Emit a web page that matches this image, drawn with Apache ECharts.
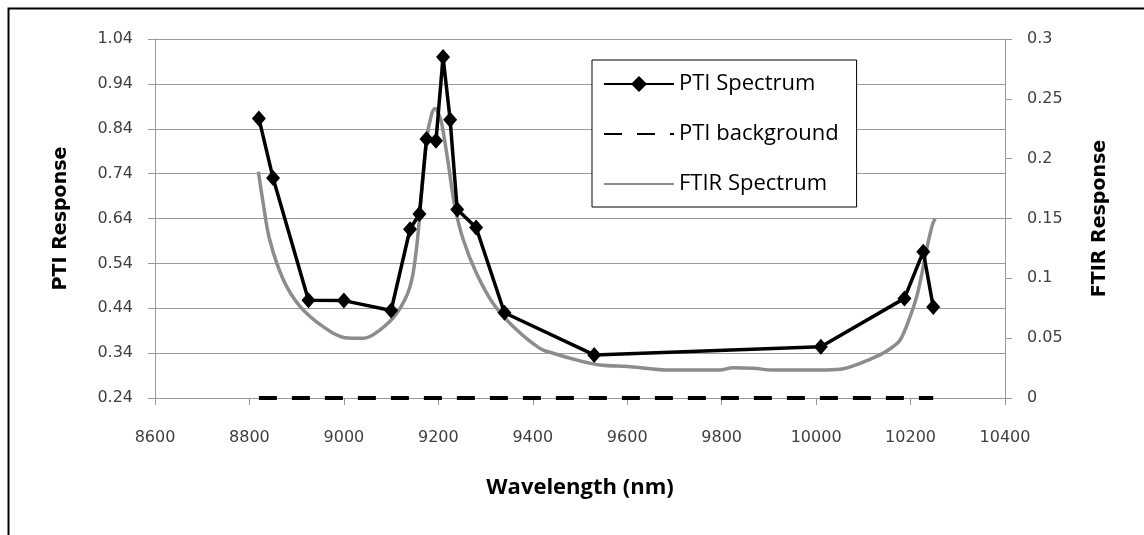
<!DOCTYPE html>
<html>
<head>
<meta charset="utf-8">
<script src="https://cdn.jsdelivr.net/npm/echarts@6/dist/echarts.min.js"></script>
<style>
html,body{margin:0;padding:0;background:#fff;}
#chart{width:1144px;height:535px;}
</style>
</head>
<body>
<div id="chart"></div>
<script>
// ---- data ----
const ptiX = [8820, 8850, 8925, 9000, 9100, 9140, 9160, 9175, 9195, 9210, 9225, 9240, 9280, 9340, 9530, 10010, 10187, 10227, 10248];
const ptiY = [0.863, 0.730, 0.458, 0.457, 0.435, 0.616, 0.650, 0.817, 0.813, 1.000, 0.860, 0.660, 0.620, 0.430, 0.336, 0.354, 0.462, 0.566, 0.443];
const bgY  = [0.24, 0.24, 0.24, 0.24, 0.24, 0.24, 0.24, 0.24, 0.24, 0.24, 0.24, 0.24, 0.24, 0.24, 0.24, 0.24, 0.24, 0.24, 0.24];
const ftirX = [8819, 8829, 8843, 8872, 8907, 8956, 9002, 9041, 9076, 9112, 9140, 9154, 9165, 9175, 9185, 9193, 9200, 9207, 9221, 9235, 9253, 9281, 9316, 9359, 9415, 9443, 9500, 9542, 9606, 9690, 9750, 9796, 9824, 9867, 9909, 9960, 10008, 10051, 10093, 10135, 10160, 10178, 10199, 10213, 10224, 10234, 10245, 10252];
const ftirY = [0.189, 0.163, 0.132, 0.0986, 0.0766, 0.0596, 0.0504, 0.0499, 0.0568, 0.0708, 0.093, 0.126, 0.174, 0.2156, 0.236, 0.242, 0.238, 0.2296, 0.196, 0.160, 0.132, 0.104, 0.079, 0.0596, 0.0415, 0.0374, 0.031, 0.0276, 0.0262, 0.0234, 0.0234, 0.0234, 0.0253, 0.0248, 0.0234, 0.0234, 0.0234, 0.024, 0.029, 0.036, 0.042, 0.0485, 0.068, 0.0847, 0.104, 0.124, 0.143, 0.150];
const xTicks = {min: 8600, max: 10400, interval: 200};
const leftTicks = {min: 0.24, max: 1.04, interval: 0.1};
const rightTicks = {min: 0, max: 0.3, interval: 0.05};
const seriesNames = ['PTI Spectrum', 'PTI background', 'FTIR Spectrum'];

const zip = (xs, ys) => xs.map((x, i) => [x, ys[i]]);
const gridColor = '#9a9a9a';
const labelStyle = {color: '#404040', fontFamily: 'DejaVu Sans', fontSize: 16};

const chart = echarts.init(document.getElementById('chart'), null, {renderer: 'canvas'});
chart.setOption({
  backgroundColor: '#ffffff',
  animation: false,
  graphic: [{
    type: 'rect', left: 6, top: 6, z: 100,
    shape: {x: 0, y: 0, width: 1300, height: 700},
    style: {fill: 'none', stroke: '#000', lineWidth: 2}
  }],
  grid: {left: 155, right: 139, top: 39, bottom: 137, containLabel: false},
  legend: {
    orient: 'vertical',
    left: 592, top: 60,
    padding: [13, 18, 12, 11],
    backgroundColor: '#fff',
    borderColor: '#000', borderWidth: 1,
    itemWidth: 70, itemHeight: 20, itemGap: 28,
    textStyle: {fontFamily: 'Open Sans', fontSize: 22, color: '#000', lineHeight: 22},
    data: [
      {name: seriesNames[0]},
      {name: seriesNames[1], itemStyle: {opacity: 0}},
      {name: seriesNames[2], itemStyle: {opacity: 0}}
    ]
  },
  xAxis: {
    type: 'value', min: xTicks.min, max: xTicks.max, interval: xTicks.interval,
    name: 'Wavelength (nm)', nameLocation: 'middle', nameGap: 79,
    nameTextStyle: {fontFamily: 'Open Sans', fontWeight: 'bold', fontSize: 22, color: '#000'},
    axisLine: {show: true, onZero: false, lineStyle: {color: gridColor, width: 1}},
    axisTick: {show: true, length: 7, lineStyle: {color: gridColor}},
    axisLabel: Object.assign({margin: 32, formatter: v => String(v)}, labelStyle),
    splitLine: {show: false}
  },
  yAxis: [{
    type: 'value', position: 'left',
    min: leftTicks.min, max: leftTicks.max, interval: leftTicks.interval,
    name: 'PTI Response', nameLocation: 'middle', nameGap: 84, nameRotate: 90,
    nameTextStyle: {fontFamily: 'DejaVu Sans', fontWeight: 'bold', fontSize: 19, color: '#000'},
    axisLine: {show: true, lineStyle: {color: gridColor, width: 1}},
    axisTick: {show: true, length: 7, lineStyle: {color: gridColor}},
    axisLabel: Object.assign({margin: 22, formatter: v => v.toFixed(2)}, labelStyle),
    splitLine: {show: true, lineStyle: {color: gridColor, width: 1}}
  }, {
    type: 'value', position: 'right',
    min: rightTicks.min, max: rightTicks.max, interval: rightTicks.interval,
    name: 'FTIR Response', nameLocation: 'middle', nameGap: 86, nameRotate: 90,
    nameTextStyle: {fontFamily: 'DejaVu Sans', fontWeight: 'bold', fontSize: 19, color: '#000'},
    axisLine: {show: true, lineStyle: {color: gridColor, width: 1}},
    axisTick: {show: true, length: 7, lineStyle: {color: gridColor}},
    axisLabel: Object.assign({margin: 22, formatter: v => String(+v.toFixed(2))}, labelStyle),
    splitLine: {show: false}
  }],
  series: [{
    name: seriesNames[0], type: 'line', yAxisIndex: 0, z: 5,
    data: zip(ptiX, ptiY),
    symbol: 'diamond', symbolSize: [14, 16],
    lineStyle: {color: '#000', width: 3.5},
    itemStyle: {color: '#000'}
  }, {
    name: seriesNames[1], type: 'line', yAxisIndex: 0, z: 4, clip: false,
    data: zip(ptiX, bgY),
    symbol: 'none',
    lineStyle: {color: '#000', width: 4, type: [18, 15], cap: 'butt'},
    itemStyle: {color: '#000'}
  }, {
    name: seriesNames[2], type: 'line', yAxisIndex: 1, z: 3,
    data: zip(ftirX, ftirY),
    symbol: 'none', smooth: 0.35,
    lineStyle: {color: '#8c8c8c', width: 3.5, join: 'round'},
    itemStyle: {color: '#8c8c8c'}
  }]
});
</script>
</body>
</html>
